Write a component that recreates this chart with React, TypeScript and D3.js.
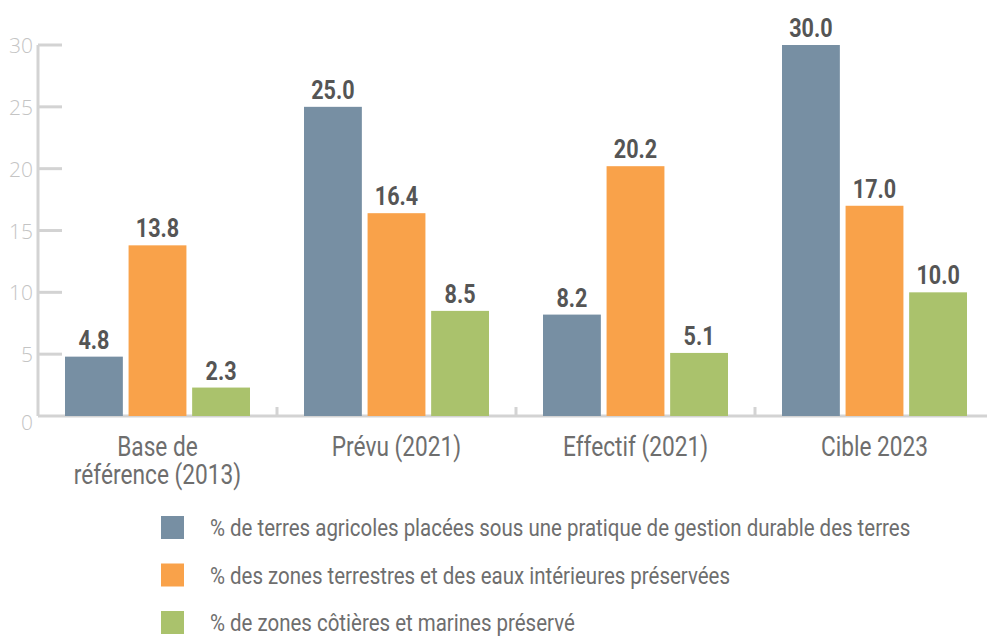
import React from 'react';
import * as d3 from 'd3';

const categories = [['Base de', 'référence (2013)'], ['Prévu (2021)'], ['Effectif (2021)'], ['Cible 2023']];
const seriesNames = [
  '% de terres agricoles placées sous une pratique de gestion durable des terres',
  '% des zones terrestres et des eaux intérieures préservées',
  '% de zones côtières et marines préservé',
];
const agricole = [4.8, 25.0, 8.2, 30.0];
const terrestre = [13.8, 16.4, 20.2, 17.0];
const marine = [2.3, 8.5, 5.1, 10.0];
const yTicks = [0, 5, 10, 15, 20, 25, 30];

const colors = ['#778fa3', '#f9a24a', '#aac26c'];
const font = 'Roboto, sans-serif';

// condensed text: Roboto squeezed horizontally
function CText({x, y, anchor = 'start', size, weight = 400, fill, sx = 0.84, children}: any) {
  return (
    <text transform={`translate(${x},${y}) scale(${sx},1)`} textAnchor={anchor}
      fontFamily={font} fontWeight={weight} fontSize={size} fill={fill}>{children}</text>
  );
}

export default function App() {
  const W = 987;
  const H = 639;
  const series = [agricole, terrestre, marine];
  const keys = categories.map(c => c.join(' '));

  const x = d3.scaleBand().domain(keys).range([38, 994]).padding(0);
  const inner = d3.scaleBand<number>()
    .domain([0, 1, 2])
    .range([27, x.bandwidth() - 27])
    .paddingInner(0.09);
  const y = d3.scaleLinear().domain([0, 30]).range([416, 45]);

  return (
    <svg width={W} height={H} style={{position: 'absolute', left: 0, top: 0}}>
      <rect width={W} height={H} fill="#fff" />
      {/* y axis */}
      <line x1={38} x2={38} y1={y(30)} y2={y(0)} stroke="#d3d3d3" strokeWidth={3} />
      {yTicks.map(t => (
        <g key={t}>
          {t > 0 && <line x1={38} x2={62} y1={y(t)} y2={y(t)} stroke="#d3d3d3" strokeWidth={3} />}
          <text x={33} y={y(t) + (t === 0 ? 14 : 8)} textAnchor="end" fontFamily="'Open Sans', sans-serif"
            fontWeight={300} fontSize={21} fill="#c4c4c4">{t}</text>
        </g>
      ))}
      {/* x baseline */}
      <line x1={38} x2={W} y1={y(0)} y2={y(0)} stroke="#d3d3d3" strokeWidth={3} />
      {keys.slice(1).map(k => (
        <line key={k} x1={x(k)!} x2={x(k)!} y1={y(0)} y2={y(0) - 9} stroke="#d3d3d3" strokeWidth={3} />
      ))}
      {/* bars */}
      {keys.map((k, ci) => (
        <g key={k} transform={`translate(${x(k)},0)`}>
          {series.map((s, si) => (
            <g key={si}>
              <rect x={inner(si)!} width={inner.bandwidth()} y={y(s[ci])} height={y(0) - y(s[ci])}
                fill={colors[si]} />
              <CText x={inner(si)! + inner.bandwidth() / 2} y={y(s[ci]) - 8} anchor="middle"
                size={26} weight={700} fill="#555" sx={0.83}>{s[ci].toFixed(1)}</CText>
            </g>
          ))}
          {categories[ci].map((line, li) => (
            <CText key={li} x={x.bandwidth() / 2} y={455.5 + li * 28} anchor="middle"
              size={27} fill="#6e6e6e">{line}</CText>
          ))}
        </g>
      ))}
      {/* legend */}
      {seriesNames.map((n, i) => (
        <g key={n} transform={`translate(161,${516 + i * 47.5})`}>
          <rect width={23} height={23} fill={colors[i]} />
          <CText x={49} y={20} size={23} fill="#6e6e6e" sx={0.89}>{n}</CText>
        </g>
      ))}
    </svg>
  );
}
